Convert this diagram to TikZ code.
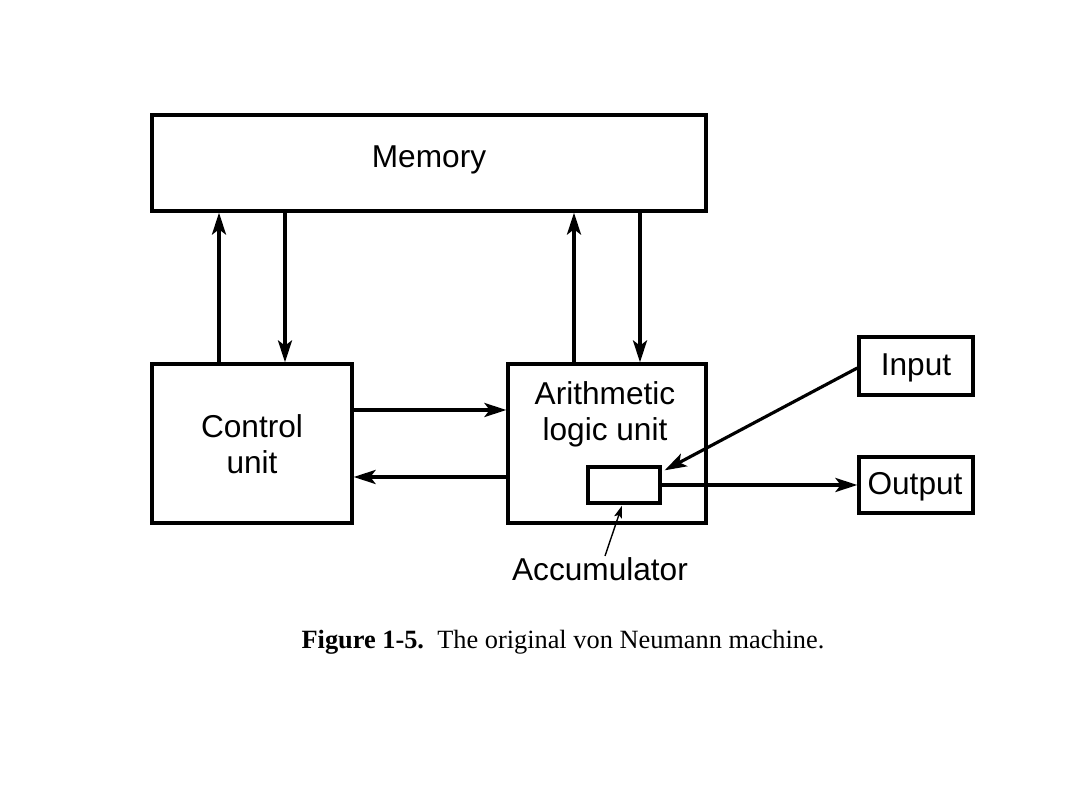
\documentclass[tikz,border=0pt]{standalone}
\usepackage{fontspec}
\setmainfont{Liberation Serif}
\newfontfamily\labelfont{Liberation Sans}
\usetikzlibrary{arrows.meta,calc}
\begin{document}
\begin{tikzpicture}[x=0.02cm,y=-0.02cm,
  box/.style={draw,line width=1.9pt,inner sep=0pt},
  lbl/.style={font=\labelfont\fontsize{18}{20.5}\selectfont,align=center,inner sep=0pt},
  arr/.style={line width=1.8pt,-{Stealth[length=12.5pt,width=8pt,inset=3pt]}},
  thinarr/.style={line width=0.8pt,-{Stealth[length=7pt,width=4.5pt,inset=1.4pt]}}]
\useasboundingbox (0,0) rectangle (1080,810);
% boxes
\node[box,minimum width=11.08cm,minimum height=1.92cm] (mem) at (429,163) {};
\node[box,minimum width=4.0cm,minimum height=3.18cm] (ctrl) at (252,443.5) {};
\node[box,minimum width=3.96cm,minimum height=3.18cm] (alu) at (607,443.5) {};
\node[box,minimum width=1.44cm,minimum height=0.72cm] (acc) at (624,485) {};
\node[box,minimum width=2.28cm,minimum height=1.16cm] (in) at (916,366) {};
\node[box,minimum width=2.28cm,minimum height=1.12cm] (out) at (916,485) {};
% labels
\node[lbl] (memt) at (429,160) {Memory};
\node[lbl] (ctrlt) at (252,444) {Control\\unit};
\node[lbl] (alut) at (605,414) {Arithmetic\\logic unit};
\node[lbl] (int) at (916,368) {Input};
\node[lbl] (outt) at (915,487) {Output};
\node[lbl] (acct) at (600,569) {Accumulator};
% x positions of vertical connectors
\coordinate (x1) at (219,0);
\coordinate (x2) at (285,0);
\coordinate (x3) at (574,0);
\coordinate (x4) at (640,0);
\coordinate (y1) at (0,410);
\coordinate (y2) at (0,477);
% memory <-> control
\draw[arr] (ctrl.north -| x1) -- (mem.south -| x1);
\draw[arr] (mem.south -| x2) -- (ctrl.north -| x2);
% memory <-> alu
\draw[arr] (alu.north -| x3) -- (mem.south -| x3);
\draw[arr] (mem.south -| x4) -- (alu.north -| x4);
% control <-> alu
\draw[arr] (ctrl.east |- y1) -- (alu.west |- y1);
\draw[arr] (alu.west |- y2) -- (ctrl.east |- y2);
% input / output
\coordinate (inend) at ($(in.west)+(0,2)$);
\coordinate (acctip) at ($(acc.north east)+(3,5)$);
\draw[arr] (inend) -- (acctip);
\draw[arr] (acc.east) -- (out.west);
% accumulator pointer
\coordinate (ptrstart) at (605,556);
\coordinate (ptrend) at ($(acc.south)+(-2,1)$);
\draw[thinarr] (ptrstart) -- (ptrend);
% caption
\node[inner sep=0pt,font=\fontsize{15}{18}\selectfont] (cap) at (563,642) {\textbf{Figure 1-5.}\hspace{0.5em}The original von Neumann machine.};
\end{tikzpicture}
\end{document}
